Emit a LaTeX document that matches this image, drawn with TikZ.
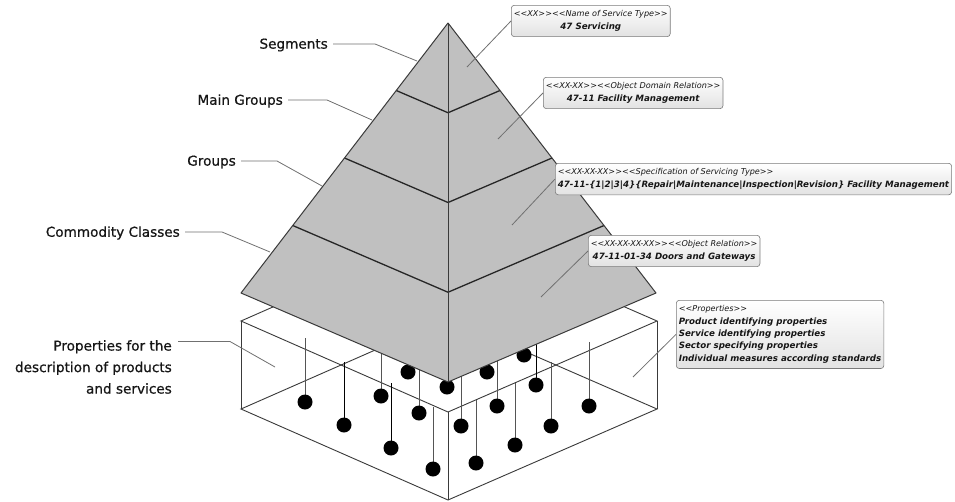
\documentclass[tikz,border=0pt]{standalone}
\usepackage{fontspec}
\setmainfont{DejaVu Sans}[Ligatures=TeXOff]
\newfontfamily\lblfont{DejaVu Sans}[Ligatures=TeXOff,FakeBold=0.6]
\usetikzlibrary{calc}
\definecolor{pyr}{HTML}{C0C0C0}
\definecolor{txt}{HTML}{161616}
\definecolor{lead}{HTML}{707070}
\definecolor{cbord}{HTML}{7A7A7A}
\definecolor{cfill}{HTML}{E2E2E2}
\definecolor{edgec}{HTML}{3A3A3A}
\definecolor{pinc}{HTML}{555555}
\newcommand{\stereo}[1]{{\fontsize{8.1}{12.3}\selectfont #1}}
\begin{document}
\begin{tikzpicture}[x=1pt,y=-1pt,
  lbl/.style={font=\lblfont\fontsize{13.6}{21.5}\selectfont, text=txt, inner sep=0pt},
  leader/.style={draw=lead, line width=0.8pt},
  callout/.style={draw=cbord, rounded corners=3pt, top color=white, bottom color=cfill,
    line width=0.6pt, inner xsep=2.5pt, inner ysep=5.5pt,
    font=\fontsize{8.7}{12.3}\selectfont\itshape, text=txt, anchor=north west},
  boxedge/.style={draw=edgec, line width=0.9pt},
  pinline/.style={line width=1pt, draw=pinc},
  pindark/.style={line width=1pt, draw=black},
  pyredge/.style={draw=edgec, line width=1pt, line join=round},
  band/.style={draw=black!85, line width=1.3pt}
]
\useasboundingbox (0,0) rectangle (955,501);
\fill[white] (0,0) rectangle (955,501);

% ---------- transparent box ----------
\coordinate (TL) at (241,321); \coordinate (TF) at (448,412);
\coordinate (TR) at (657,321); \coordinate (TB) at (448,230);
\coordinate (BL) at (241,409); \coordinate (BF) at (448,500);
\coordinate (BR) at (657,409); \coordinate (BB) at (448,318);
\draw[boxedge] (TL) -- (TF) -- (TR) -- (TB) -- cycle;
\draw[boxedge] (BL) -- (BF) -- (BR) -- (BB) -- cycle;
\draw[boxedge] (TL) -- (BL) (TF) -- (BF) (TR) -- (BR) (TB) -- (BB);

% ---------- pins ----------
\foreach \x/\y/\t in {305/402/338, 381/396/340, 419/413/355, 433/469/407,
    461/426/360, 476/463/400, 497/406/350, 515/445/383, 551/426/362, 589/406/342}
  \draw[pinline] (\x,\t) -- (\x,\y);
\foreach \x/\y/\t in {344/425/362, 391/448/383, 536/385/335}
  \draw[pindark] (\x,\t) -- (\x,\y);
\foreach \x/\y in {305/402, 344/425, 381/396, 391/448, 408/372, 419/413, 433/469,
    447/387, 461/426, 476/463, 487/372, 497/406, 515/445, 524/355, 536/385, 551/426, 589/406}
  \fill[black] (\x,\y) circle (7.5pt);

% ---------- pyramid ----------
\coordinate (A) at (448,23);
\coordinate (PL) at (241,293);
\coordinate (PF) at (448,382);
\coordinate (PR) at (656,293);
\fill[pyr] (A) -- (PL) -- (PF) -- (PR) -- cycle;
\foreach \t in {0.25,0.5,0.75}
  \draw[band] ($(A)!\t!(PL)$) -- ($(A)!\t!(PF)$) -- ($(A)!\t!(PR)$);
\draw[pyredge] (A) -- (PL) -- (PF) -- (PR) -- cycle;
\draw[pyredge] (A) -- (PF);

% ---------- left labels ----------
\node[lbl, anchor=east] (seg) at (328,45) {Segments};
\node[lbl, anchor=east] (main) at (283,101) {Main Groups};
\node[lbl, anchor=east] (grp) at (236,162) {Groups};
\node[lbl, anchor=east] (com) at (180,233) {Commodity Classes};
\node[lbl, anchor=east, align=right] (prop) at (172,367)
  {Properties for the\\description of products\\and services};
\coordinate (segp) at (417,61);
\coordinate (mainp) at (372,120);
\coordinate (grpp) at (322,186);
\coordinate (comp) at (270,252);
\coordinate (propp) at (275,367);
\draw[leader] ([xshift=5pt,yshift=1pt]seg.east) -- ++(42,0) -- (segp);
\draw[leader] ([xshift=5pt,yshift=1pt]main.east) -- ++(39,0) -- (mainp);
\draw[leader] ([xshift=5pt,yshift=1pt]grp.east) -- ++(36,0) -- (grpp);
\draw[leader] ([xshift=5pt,yshift=1pt]com.east) -- ++(37,0) -- (comp);
\draw[leader] ([xshift=6pt,yshift=25.5pt]prop.east) -- ++(52,0) -- (propp);

% ---------- callouts ----------
\node[callout, align=center] (b1) at (511,5)
  {\stereo{<<XX>><<Name of Service Type>>}\\\textbf{47 Servicing}};
\node[callout, align=center] (b2) at (543,77)
  {\stereo{<<XX-XX>><<Object Domain Relation>>}\\\textbf{47-11 Facility Management}};
\node[callout, align=left] (b3) at (555,163)
  {\stereo{<<XX-XX-XX>><<Specification of Servicing Type>>}\\\textbf{47-11-\{1|2|3|4\}\{Repair|Maintenance|Inspection|Revision\} Facility Management}};
\node[callout, align=center] (b4) at (588,235)
  {\stereo{<<XX-XX-XX-XX>><<Object Relation>>}\\\textbf{47-11-01-34 Doors and Gateways}};
\node[callout, align=left] (b5) at (676,300)
  {\stereo{<<Properties>>}\\\textbf{Product identifying properties}\\\textbf{Service identifying properties}\\\textbf{Sector specifying properties}\\\textbf{Individual measures according standards}};
\coordinate (b1p) at (467,67);
\coordinate (b2p) at (498,139);
\coordinate (b3p) at (512,225);
\coordinate (b4p) at (541,297);
\coordinate (b5p) at (633,377);
\draw[leader] (b1.west) -- (b1p);
\draw[leader] (b2.west) -- (b2p);
\draw[leader] (b3.west) -- (b3p);
\draw[leader] (b4.west) -- (b4p);
\draw[leader] (b5.west) -- (b5p);
\end{tikzpicture}
\end{document}
